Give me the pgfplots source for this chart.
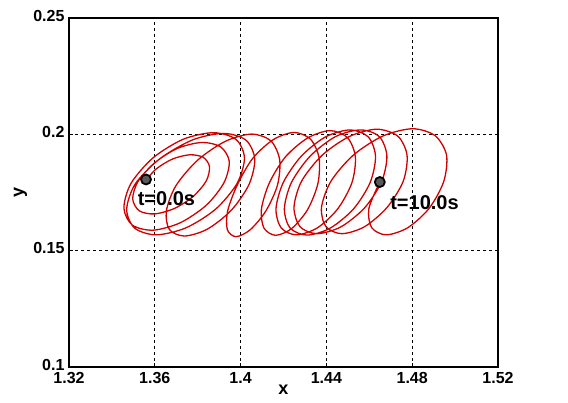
\documentclass[border=0pt]{standalone}
\usepackage{fontspec}
\setmainfont{Liberation Sans}
\usepackage{pgfplots}
\pgfplotsset{compat=1.18}
\definecolor{trajred}{RGB}{208,0,0}
\begin{document}
\begin{tikzpicture}
\begin{axis}[
  scale only axis,
  width=429pt, height=349pt,
  xmin=1.32, xmax=1.52, ymin=0.1, ymax=0.25,
  xtick={1.32,1.36,1.40,1.44,1.48,1.52},
  xticklabels={1.32,1.36,1.4,1.44,1.48,1.52},
  ytick={0.1,0.15,0.2,0.25},
  yticklabels={0.1,0.15,0.2,0.25},
  tick pos=left,
  tick align=inside,
  major tick length=4pt,
  tick style={black, line width=0.8pt},
  axis line style={black, line width=1.2pt},
  grid=major,
  major grid style={black, line width=0.6pt, dash pattern=on 3pt off 3pt},
  ticklabel style={font=\bfseries\fontsize{16}{17}\selectfont},
  xticklabel style={yshift=-1.5pt},
  yticklabel style={xshift=-1pt, yshift=2.5pt},
  xlabel={x}, ylabel={y},
  label style={font=\bfseries\fontsize{18}{19}\selectfont},
  xlabel style={at={(axis description cs:0.5,0)}, anchor=center, yshift=-23pt},
  ylabel style={at={(axis description cs:-0.113,0.5)}, anchor=center},
]
\addplot[trajred, line width=1.3pt, smooth] coordinates {
(1.3559,.1804) (1.3609,.1853) (1.3683,.1894) (1.3763,.1912) (1.3826,.1901) (1.3855,.1861)
(1.3840,.1800) (1.3780,.1734) (1.3693,.1682) (1.3599,.1658) (1.3528,.1671) (1.3497,.1722)
(1.3521,.1796) (1.3596,.1875) (1.3704,.1939) (1.3819,.1965) (1.3907,.1946) (1.3947,.1884)
(1.3923,.1793) (1.3841,.1696) (1.3719,.1620) (1.3592,.1588) (1.3495,.1610) (1.3456,.1683)
(1.3489,.1789) (1.3592,.1899) (1.3733,.1979) (1.3874,.2007) (1.3979,.1978) (1.4018,.1898)
(1.3983,.1788) (1.3883,.1678) (1.3745,.1598) (1.3606,.1568) (1.3506,.1597) (1.3469,.1677)
(1.3509,.1787) (1.3625,.1896) (1.3776,.1976) (1.3921,.2004) (1.4025,.1975) (1.4066,.1894)
(1.4039,.1784) (1.3956,.1673) (1.3844,.1592) (1.3738,.1563) (1.3668,.1591) (1.3654,.1671)
(1.3699,.1780) (1.3801,.1890) (1.3929,.1970) (1.4051,.2001) (1.4141,.1972) (1.4182,.1891)
(1.4172,.1782) (1.4118,.1671) (1.4045,.1590) (1.3978,.1560) (1.3938,.1591) (1.3940,.1672)
(1.3985,.1783) (1.4056,.1896) (1.4152,.1977) (1.4249,.2008) (1.4326,.1979) (1.4366,.1898)
(1.4360,.1787) (1.4312,.1676) (1.4238,.1595) (1.4163,.1566) (1.4109,.1597) (1.4097,.1678)
(1.4134,.1791) (1.4209,.1903) (1.4312,.1984) (1.4417,.2016) (1.4498,.1986) (1.4535,.1904)
(1.4519,.1792) (1.4453,.1680) (1.4358,.1598) (1.4260,.1568) (1.4189,.1598) (1.4165,.1680)
(1.4199,.1793) (1.4283,.1906) (1.4396,.1989) (1.4511,.2019) (1.4595,.1989) (1.4629,.1906)
(1.4604,.1793) (1.4527,.1680) (1.4418,.1597) (1.4310,.1567) (1.4231,.1597) (1.4204,.1680)
(1.4237,.1793) (1.4324,.1906) (1.4442,.1990) (1.4560,.2019) (1.4647,.1990) (1.4682,.1907)
(1.4657,.1796) (1.4578,.1684) (1.4467,.1602) (1.4356,.1573) (1.4277,.1603) (1.4249,.1686)
(1.4284,.1798) (1.4380,.1910) (1.4508,.1991) (1.4635,.2022) (1.4733,.1992) (1.4776,.1910)
(1.4758,.1798) (1.4683,.1686) (1.4578,.1603) (1.4472,.1573) (1.4398,.1603) (1.4377,.1685)
(1.4421,.1798) (1.4526,.1911) (1.4664,.1993) (1.4802,.2024) (1.4907,.1994) (1.4960,.1911)
(1.4947,.1797) (1.4879,.1682) (1.4780,.1599) (1.4679,.1568) (1.4611,.1599) (1.4598,.1681)
(1.4649,.1795)
};
\addplot[only marks, mark=*, mark size=5pt, mark options={draw=black, fill=black!65, line width=1.8pt}] coordinates {
(1.3559,0.1806) (1.4649,0.1795)
};
\node[anchor=base west, inner sep=0pt, font=\bfseries\fontsize{20}{21}\selectfont] at (axis cs:1.3520,0.1692) {t=0.0s};
\node[anchor=base west, inner sep=0pt, font=\bfseries\fontsize{20}{21}\selectfont] at (axis cs:1.4697,0.1675) {t=10.0s};
\end{axis}
\pgfresetboundingbox
\path[use as bounding box] (-69pt,-36pt) rectangle ++(568pt,403pt);
\end{tikzpicture}
\end{document}
